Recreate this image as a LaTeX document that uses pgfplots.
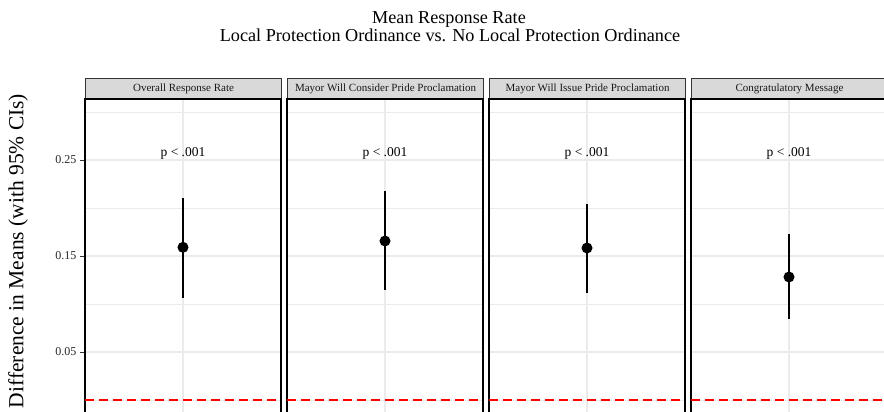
\documentclass[border=0pt]{standalone}
\usepackage{pgfplots}
\pgfplotsset{compat=1.18}
\usepackage{fontspec}
\setmainfont{Liberation Serif}

\definecolor{stripfill}{HTML}{D9D9D9}
\definecolor{stripline}{HTML}{333333}
\definecolor{gridgrey}{HTML}{EBEBEB}
\definecolor{ticktext}{HTML}{262626}

% one facet panel, 1pt = 1px of the reference
\pgfplotsset{
  panel/.style={
    scale only axis, width=196pt, height=329.8pt,
    anchor=north west,
    xmin=0, xmax=2, ymin=-0.03, ymax=0.3135,
    xtick={1}, xticklabels={}, xtick style={draw=none},
    ytick={0.05,0.15,0.25}, minor ytick={0,0.1,0.2,0.3},
    grid=both,
    major grid style={gridgrey, line width=1.2pt},
    minor grid style={gridgrey, line width=0.8pt},
    axis line style={black, line width=2.3pt},
    yticklabels={}, ytick style={draw=none},
    minor tick length=0pt,
    /pgf/number format/assume math mode=true,
  },
  firstpanel/.style={
    yticklabels={0.05,0.15,0.25},
    ytick style={draw=stripline, line width=0.9pt},
    minor y tick style={draw=none},
    tick align=outside, ytick pos=left, major tick length=5pt,
    yticklabel style={font=\fontsize{12}{13}\selectfont, text=ticktext},
  },
  ci/.style={black, mark=*, mark size=4pt, line width=2.8pt,
    error bars/y dir=both, error bars/y explicit,
    error bars/error mark=none,
    error bars/error bar style={line width=2.8pt, black}},
  zeroline/.style={red, line width=1.6pt, dash pattern=on 9pt off 5pt},
}
\newcommand{\striplabel}[2]{%
  \node[anchor=south west, fill=stripfill, draw=stripline, line width=1.1pt,
        minimum width=196pt, minimum height=20pt, inner sep=0pt,
        font=\fontsize{11}{12}\selectfont, text=black!90]
    at (#1,313pt) {#2};}
\newcommand{\plabel}{\node[anchor=base, font=\fontsize{13.5}{14}\selectfont]
  at (axis cs:1,0.2536) {p < .001};}

\begin{document}
\begin{tikzpicture}

\node[anchor=base, font=\fontsize{18.2}{20}\selectfont] at (449pt,388.5pt) {Mean Response Rate};
\node[anchor=base, font=\fontsize{18.2}{20}\selectfont] at (450pt,370pt)
  {Local Protection Ordinance vs. No Local Protection Ordinance};
\node[rotate=90, font=\fontsize{21.5}{22}\selectfont] at (18pt,161pt)
  {Difference in Means (with 95\% CIs)};

\striplabel{85pt}{Overall Response Rate}
\striplabel{287pt}{Mayor Will Consider Pride Proclamation}
\striplabel{489pt}{Mayor Will Issue Pride Proclamation}
\striplabel{691pt}{Congratulatory Message}

\begin{axis}[panel, firstpanel, at={(85pt,313pt)}]
\addplot[zeroline] coordinates {(0,0) (2,0)};
\addplot[ci] coordinates {(1,0.159) += (0,0.051) -= (0,0.053)};
\plabel
\end{axis}

\begin{axis}[panel, at={(287pt,313pt)}]
\addplot[zeroline] coordinates {(0,0) (2,0)};
\addplot[ci] coordinates {(1,0.1656) += (0,0.0521) -= (0,0.051)};
\plabel
\end{axis}

\begin{axis}[panel, at={(489pt,313pt)}]
\addplot[zeroline] coordinates {(0,0) (2,0)};
\addplot[ci] coordinates {(1,0.1583) += (0,0.0459) -= (0,0.0468)};
\plabel
\end{axis}

\begin{axis}[panel, at={(691pt,313pt)}]
\addplot[zeroline] coordinates {(0,0) (2,0)};
\addplot[ci] coordinates {(1,0.1281) += (0,0.0448) -= (0,0.0437)};
\plabel
\end{axis}

\pgfresetboundingbox
\useasboundingbox (0,0) rectangle (884pt,412pt);
\end{tikzpicture}
\end{document}
